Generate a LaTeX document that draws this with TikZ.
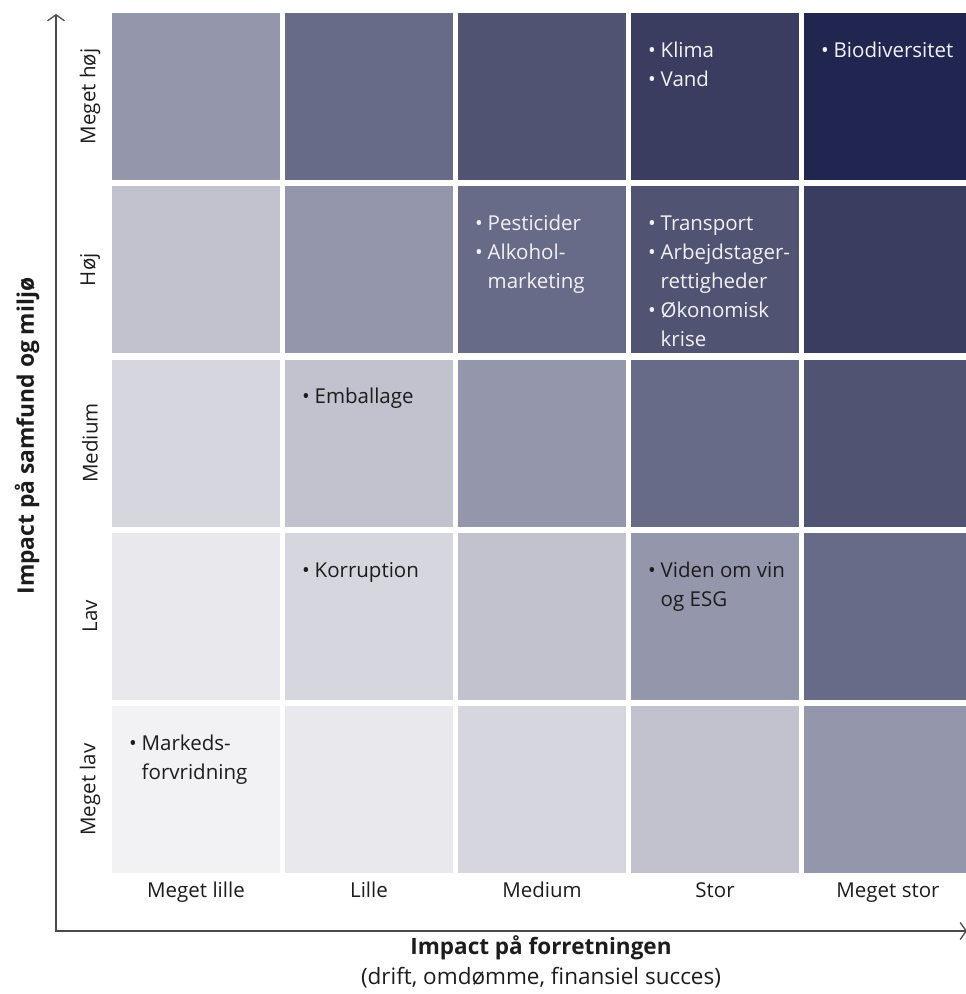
\documentclass[tikz,border=0pt]{standalone}
\usepackage{fontspec}
\setmainfont{Open Sans}
\usetikzlibrary{arrows.meta}
\definecolor{lvl0}{HTML}{F2F2F5}
\definecolor{lvl1}{HTML}{E8E8ED}
\definecolor{lvl2}{HTML}{D6D6DF}
\definecolor{lvl3}{HTML}{C1C2CE}
\definecolor{lvl4}{HTML}{9497AC}
\definecolor{lvl5}{HTML}{686B88}
\definecolor{lvl6}{HTML}{505372}
\definecolor{lvl7}{HTML}{3A3D60}
\definecolor{lvl8}{HTML}{20264F}
\definecolor{axisgray}{HTML}{4A4A4A}
\definecolor{lighttext}{HTML}{F2F2F4}
\definecolor{darktext}{HTML}{1C1C1C}
\tikzset{
  cell/.style={minimum width=168pt, minimum height=167pt, inner sep=0pt, draw=none},
  item/.style={anchor=north west, inner sep=0pt, font=\fontsize{20.5}{29}\selectfont},
  onlight/.style={item, text=darktext},
  ondark/.style={item, text=lighttext},
  rowlabel/.style={rotate=90, font=\fontsize{20.5}{24}\selectfont, text=darktext},
  collabel/.style={anchor=base, font=\fontsize{20.5}{24}\selectfont, text=darktext},
  axis/.style={line width=1.3pt, draw=axisgray, {Straight Barb[length=6pt,width=17pt]}-{Straight Barb[length=6pt,width=17pt]}},
}
\newcommand{\itemlist}[1]{\begin{tabular}{@{}l@{\hspace{5pt}}l@{}}#1\end{tabular}}

\begin{document}
\begin{tikzpicture}[x=1pt,y=-1pt]
		%%%%% START %%%%%
		\useasboundingbox (0,0) rectangle (966,994);
		
		% the 5x5 grid, darker towards the top right
		\foreach \r in {0,...,4}{
			\foreach \c in {0,...,4}{
				\pgfmathtruncatemacro\lvl{\c+4-\r}
				\node[cell, fill=lvl\lvl] (c-\r-\c) at ({196+173*\c}, {96.5+173.25*\r}) {};
			}
		}
		
		% row and column labels
		\foreach \lab [count=\r from 0] in {Meget høj, Høj, Medium, Lav, Meget lav}
			\node[rowlabel] (row-\r) at (90, {96.5+173.25*\r}) {\lab};
		\foreach \lab [count=\c from 0] in {Meget lille, Lille, Medium, Stor, Meget stor}
			\node[collabel] (col-\c) at ({196+173*\c}, 897) {\lab};
		
		% topics
		\node[ondark] (t-klima) at ([xshift=17pt,yshift=-24pt]c-0-3.north west) {\itemlist{• & Klima\\ • & Vand}};
		\node[ondark] (t-bio) at ([xshift=17pt,yshift=-24pt]c-0-4.north west) {\itemlist{• & Biodiversitet}};
		\node[ondark] (t-pest) at ([xshift=17pt,yshift=-24pt]c-1-2.north west) {\itemlist{• & Pesticider\\ • & Alkohol-\\ & marketing}};
		\node[ondark] (t-trans) at ([xshift=17pt,yshift=-24pt]c-1-3.north west) {\itemlist{• & Transport\\ • & Arbejdstager-\\ & rettigheder\\ • & Økonomisk\\ & krise}};
		\node[onlight] (t-emb) at ([xshift=17pt,yshift=-24pt]c-2-1.north west) {\itemlist{• & Emballage}};
		\node[onlight] (t-korr) at ([xshift=17pt,yshift=-24pt]c-3-1.north west) {\itemlist{• & Korruption}};
		\node[onlight] (t-vin) at ([xshift=17pt,yshift=-24pt]c-3-3.north west) {\itemlist{• & Viden om vin\\ & og ESG}};
		\node[onlight] (t-mark) at ([xshift=17pt,yshift=-24pt]c-4-0.north west) {\itemlist{• & Markeds-\\ & forvridning}};
		
		% axes
		\coordinate (origin) at (56, 931);
		\coordinate (ytip) at (56, 14);
		\coordinate (xtip) at (967, 931);
		\draw[axis] (ytip) -- (origin) -- (xtip);
		
		\node[rotate=90, font=\bfseries\fontsize{22.8}{27}\selectfont, text=darktext] (ytitle) at (27, 436) {Impact på samfund og miljø};
		\node[font=\bfseries\fontsize{22.5}{27}\selectfont, text=darktext] (xtitle) at (541, 948) {Impact på forretningen};
		\node[font=\fontsize{22.5}{27}\selectfont, text=darktext] (xsub) at (541, 978) {(drift, omdømme, finansiel succes)};
		
		%%%%% END %%%%%
\end{tikzpicture}
\end{document}
